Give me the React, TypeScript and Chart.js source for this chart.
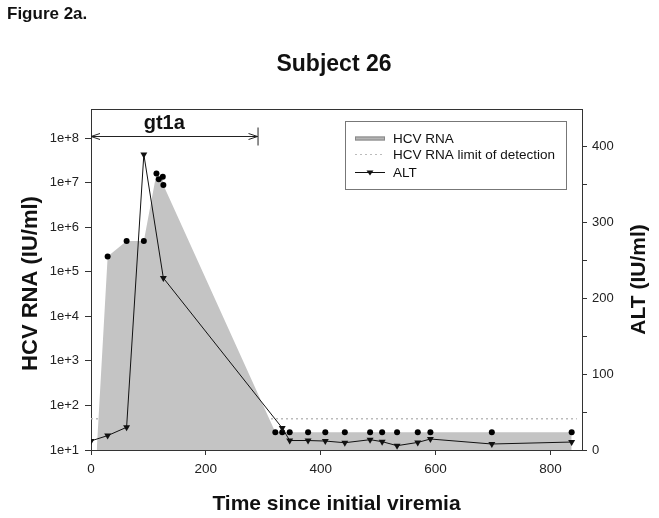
import React, { useEffect, useRef } from 'react';
import { Chart, registerables } from 'chart.js';

Chart.register(...registerables);

// ---- data ----
const rnaDays = [10, 29, 62, 92, 114, 118, 125, 126, 321, 333, 346, 378, 408, 442, 486, 507, 533, 569, 591, 698, 837];
const rnaValues = [10, 2.2e5, 4.9e5, 4.9e5, 1.6e7, 1.2e7, 1.35e7, 8.9e6, 25, 25, 25, 25, 25, 25, 25, 25, 25, 25, 25, 25, 25];
const altDays = [0, 29, 62, 92, 126, 333, 346, 378, 408, 442, 486, 507, 533, 569, 591, 698, 837];
const altValues = [12, 19, 30, 390, 227, 29, 12.5, 12.5, 11.8, 9.6, 13.6, 11, 5.7, 10, 14.5, 7.9, 10.5];
const lodDays = [0, 846];
const lodValue = 50;
const gt1aRange = [0, 290];
const gt1aLabel = 'gt1a';
const xTicks = [0, 200, 400, 600, 800];
const rnaTicks = [1e1, 1e2, 1e3, 1e4, 1e5, 1e6, 1e7, 1e8];
const altTicks = [0, 50, 100, 150, 200, 250, 300, 350, 400];
const altLabelled = [0, 100, 200, 300, 400];

const figureLabel = 'Figure 2a.';
const titleText = 'Subject 26';
const xTitle = 'Time since initial viremia';
const yTitle = 'HCV RNA (IU/ml)';
const y2Title = 'ALT (IU/ml)';
const legendLabels = ['HCV RNA', 'HCV RNA limit of detection', 'ALT'];

const FONT = 'Arial, "Liberation Sans", Helvetica, sans-serif';
const AREA_GRAY = '#c4c4c4';
const AXIS = '#333333';

const decorPlugin = {
  id: 'decor',
  afterDraw(chart: any) {
    const { ctx, chartArea } = chart;
    const xs = chart.scales.x;
    ctx.save();
    // frame top
    ctx.strokeStyle = AXIS;
    ctx.lineWidth = 1;
    ctx.beginPath();
    ctx.moveTo(chartArea.left, chartArea.top + 0.5);
    ctx.lineTo(chartArea.right, chartArea.top + 0.5);
    ctx.stroke();

    ctx.fillStyle = '#111';
    // figure label
    ctx.font = `bold 17px ${FONT}`;
    ctx.textAlign = 'left';
    ctx.textBaseline = 'alphabetic';
    ctx.fillText(figureLabel, 7, 19);
    // title
    ctx.font = `bold 23px ${FONT}`;
    ctx.textAlign = 'center';
    ctx.fillText(titleText, 334, 71);
    // x title
    ctx.font = `bold 21px ${FONT}`;
    ctx.fillText(xTitle, (chartArea.left + chartArea.right) / 2, 510);
    // y titles
    const cy = (chartArea.top + chartArea.bottom) / 2;
    ctx.save();
    ctx.translate(37, cy + 4);
    ctx.rotate(-Math.PI / 2);
    ctx.font = `bold 22px ${FONT}`;
    ctx.fillText(yTitle, 0, 0);
    ctx.restore();
    ctx.save();
    ctx.translate(645, cy);
    ctx.rotate(-Math.PI / 2);
    ctx.font = `bold 21px ${FONT}`;
    ctx.fillText(y2Title, 0, 0);
    ctx.restore();

    // gt1a arrow
    const x0 = xs.getPixelForValue(gt1aRange[0]);
    const x1 = xs.getPixelForValue(gt1aRange[1]);
    const ay = 136.5;
    ctx.strokeStyle = '#222';
    ctx.lineWidth = 1;
    ctx.beginPath();
    ctx.moveTo(x0, ay);
    ctx.lineTo(x1, ay);
    ctx.moveTo(x0 + 9, ay - 3);
    ctx.lineTo(x0, ay);
    ctx.lineTo(x0 + 9, ay + 3);
    ctx.moveTo(x1 - 9, ay - 3);
    ctx.lineTo(x1, ay);
    ctx.lineTo(x1 - 9, ay + 3);
    ctx.moveTo(x1 + 0.5, ay - 9);
    ctx.lineTo(x1 + 0.5, ay + 9);
    ctx.stroke();
    ctx.font = `bold 20px ${FONT}`;
    ctx.textAlign = 'center';
    ctx.fillText(gt1aLabel, (x0 + x1) / 2 - 10, 129);

    // legend
    const lx = 345.5, ly = 121.5, lw = 221, lh = 68;
    ctx.strokeStyle = '#777';
    ctx.strokeRect(lx, ly, lw, lh);
    const sx0 = 355, sx1 = 385, tx = 393;
    const rows = [138.5, 154, 172];
    ctx.fillStyle = '#b4b4b4';
    ctx.fillRect(sx0, rows[0] - 2, sx1 - sx0, 4);
    ctx.strokeStyle = '#888';
    ctx.strokeRect(sx0 + 0.5, rows[0] - 2 + 0.5, sx1 - sx0 - 1, 3);
    ctx.strokeStyle = '#bbbbbb';
    ctx.setLineDash([2, 3]);
    ctx.beginPath();
    ctx.moveTo(sx0, rows[1] + 0.5);
    ctx.lineTo(sx1, rows[1] + 0.5);
    ctx.stroke();
    ctx.setLineDash([]);
    ctx.strokeStyle = '#111';
    ctx.beginPath();
    ctx.moveTo(sx0, rows[2] + 0.5);
    ctx.lineTo(sx1, rows[2] + 0.5);
    ctx.stroke();
    ctx.fillStyle = '#111';
    ctx.beginPath();
    const mx = (sx0 + sx1) / 2;
    ctx.moveTo(mx - 3.5, rows[2] - 1.5);
    ctx.lineTo(mx + 3.5, rows[2] - 1.5);
    ctx.lineTo(mx, rows[2] + 3.5);
    ctx.closePath();
    ctx.fill();
    ctx.font = `13.5px ${FONT}`;
    ctx.textAlign = 'left';
    ctx.textBaseline = 'middle';
    legendLabels.forEach((t, i) => ctx.fillText(t, tx, rows[i] + 1));
    ctx.restore();
  },
};

export default function App() {
  const ref = useRef<HTMLCanvasElement>(null);
  useEffect(() => {
    if (!ref.current) return;
    const chart = new Chart(ref.current, {
      type: 'line',
      data: {
        datasets: [
          {
            label: 'ALT',
            data: altDays.map((d, i) => ({ x: d, y: altValues[i] })),
            yAxisID: 'y2',
            borderColor: '#111',
            borderWidth: 1,
            pointStyle: 'triangle',
            rotation: 180,
            pointRadius: 4,
            pointBackgroundColor: '#111',
            pointBorderColor: '#111',
            pointBorderWidth: 0,
            fill: false,
            tension: 0,
          },
          {
            label: 'HCV RNA',
            data: rnaDays.map((d, i) => ({ x: d, y: rnaValues[i] })),
            yAxisID: 'y',
            borderWidth: 0,
            borderColor: 'rgba(0,0,0,0)',
            backgroundColor: AREA_GRAY,
            fill: 'start',
            pointRadius: (c: any) => (c.raw && c.raw.y <= 10 ? 0 : 3),
            pointBackgroundColor: '#000',
            pointBorderWidth: 0,
            tension: 0,
          },
          {
            label: 'HCV RNA limit of detection',
            data: lodDays.map((d) => ({ x: d, y: lodValue })),
            yAxisID: 'y',
            borderColor: '#bbbbbb',
            borderWidth: 1.5,
            borderDash: [2, 3],
            pointRadius: 0,
            fill: false,
          },
        ],
      },
      options: {
        responsive: false,
        animation: false,
        events: [],
        layout: { padding: { top: 109, left: 0, right: 0, bottom: 0 } },
        plugins: { legend: { display: false }, tooltip: { enabled: false }, title: { display: false } },
        scales: {
          x: {
            type: 'linear',
            min: 0,
            max: 855,
            afterBuildTicks: (s: any) => { s.ticks = xTicks.map((v) => ({ value: v })); },
            afterFit: (s: any) => { s.height = 68; },
            grid: { drawOnChartArea: false, drawTicks: true, tickLength: 5, color: AXIS },
            border: { color: AXIS, width: 1 },
            ticks: { color: '#222', font: { family: FONT, size: 13.5 }, padding: 6, maxRotation: 0, autoSkip: false },
          },
          y: {
            type: 'logarithmic',
            position: 'left',
            min: 10,
            max: 4.5e8,
            afterBuildTicks: (s: any) => { s.ticks = rnaTicks.map((v) => ({ value: v })); },
            afterFit: (s: any) => { s.width = 91; },
            grid: { drawOnChartArea: false, drawTicks: true, tickLength: 6, color: AXIS },
            border: { color: AXIS, width: 1 },
            ticks: {
              color: '#222',
              font: { family: FONT, size: 13 },
              padding: 6,
              autoSkip: false,
              callback: (v: any) => '1e+' + Math.round(Math.log10(Number(v))),
            },
          },
          y2: {
            type: 'linear',
            position: 'right',
            min: 0,
            max: 450,
            afterBuildTicks: (s: any) => { s.ticks = altTicks.map((v) => ({ value: v })); },
            afterFit: (s: any) => { s.width = 77; },
            grid: { drawOnChartArea: false, drawTicks: true, tickLength: 5, color: AXIS },
            border: { color: AXIS, width: 1 },
            ticks: {
              color: '#222',
              font: { family: FONT, size: 13 },
              padding: 5,
              autoSkip: false,
              callback: (v: any) => (altLabelled.includes(Number(v)) ? String(v) : ''),
            },
          },
        },
      },
      plugins: [decorPlugin],
    });
    return () => chart.destroy();
  }, []);
  return (
    <div style={{ position: 'fixed', left: 0, top: 0, width: 659, height: 518, background: '#fff' }}>
      <canvas ref={ref} width={659} height={518} style={{ display: 'block' }} />
    </div>
  );
}
